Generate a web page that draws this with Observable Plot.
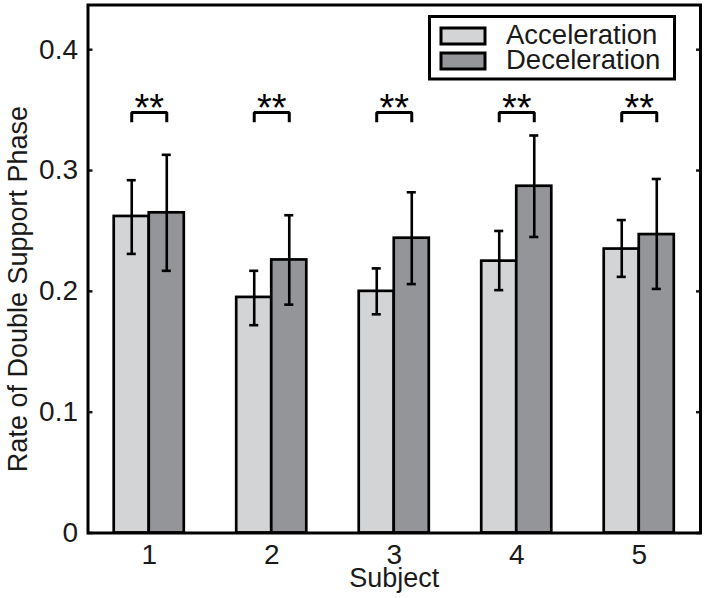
<!DOCTYPE html>
<html>
<head>
<meta charset="utf-8">
<script src="https://cdn.jsdelivr.net/npm/d3@7"></script>
<script src="https://cdn.jsdelivr.net/npm/@observablehq/plot@0.6"></script>
<style>
  html, body { margin: 0; padding: 0; background: #fff; }
  #chart { width: 706px; height: 598px; }
</style>
</head>
<body>
<div id="chart"></div>
<script>
// ---- data ----
const subjects = [1, 2, 3, 4, 5];
const seriesNames = ["Acceleration", "Deceleration"];
const accMean = [0.262, 0.195, 0.200, 0.225, 0.235];
const accLow  = [0.231, 0.172, 0.181, 0.201, 0.212];
const accHigh = [0.292, 0.217, 0.219, 0.250, 0.259];
const decMean = [0.265, 0.226, 0.244, 0.287, 0.247];
const decLow  = [0.217, 0.189, 0.206, 0.245, 0.202];
const decHigh = [0.313, 0.263, 0.282, 0.329, 0.293];
const sigLabels = ["**", "**", "**", "**", "**"];
const sigTop = [0.348, 0.348, 0.348, 0.348, 0.348];
const sigLeg = [0.340, 0.340, 0.340, 0.340, 0.340];
const yTicks = [0, 0.1, 0.2, 0.3, 0.4];
const yTickLabels = ["0", "0.1", "0.2", "0.3", "0.4"];
const xLabel = "Subject";
const yLabel = "Rate of Double Support Phase";
const colors = ["#d3d4d6", "#939598"];

// ---- derived tables ----
const barW = 0.286;
const bars = subjects.flatMap((s, i) => [
  {s, series: seriesNames[0], mean: accMean[i], low: accLow[i], high: accHigh[i], x1: s - barW, x2: s},
  {s, series: seriesNames[1], mean: decMean[i], low: decLow[i], high: decHigh[i], x1: s, x2: s + barW}
]).map(d => ({...d, xc: (d.x1 + d.x2) / 2}));
const capHalf = 0.037;
const brackets = subjects.flatMap((s, i) => [
  {s, x: s - barW / 2, y: sigLeg[i]},
  {s, x: s - barW / 2, y: sigTop[i]},
  {s, x: s + barW / 2, y: sigTop[i]},
  {s, x: s + barW / 2, y: sigLeg[i]}
]);
const stars = subjects.map((s, i) => ({s, label: sigLabels[i], y: sigTop[i]}));

const font = "'Liberation Sans', Arial, Helvetica, sans-serif";
const ink = "#1a1a1a";

const svg = Plot.plot({
  width: 706,
  height: 598,
  marginLeft: 87.5,
  marginRight: 6,
  marginTop: 4.5,
  marginBottom: 65.5,
  style: {fontFamily: font, fontSize: "28px", color: ink, background: "#fff", overflow: "visible"},
  x: {type: "linear", domain: [0.5, 5.5]},
  y: {domain: [0, 0.437]},
  color: {domain: seriesNames, range: colors},
  marks: [
    Plot.rect(bars, {x1: "x1", x2: "x2", y1: () => 0, y2: "mean", fill: "series", stroke: "#000", strokeWidth: 2.7}),
    Plot.ruleX(bars, {x: "xc", y1: "low", y2: "high", stroke: "#000", strokeWidth: 2.6}),
    Plot.ruleY(bars, {y: "low", x1: d => d.xc - capHalf, x2: d => d.xc + capHalf, stroke: "#000", strokeWidth: 2.6}),
    Plot.ruleY(bars, {y: "high", x1: d => d.xc - capHalf, x2: d => d.xc + capHalf, stroke: "#000", strokeWidth: 2.6}),
    Plot.line(brackets, {x: "x", y: "y", z: "s", stroke: "#000", strokeWidth: 3, strokeLinejoin: "miter", strokeLinecap: "butt"}),
    Plot.text(stars, {x: "s", y: "y", text: "label", fontSize: 38, lineAnchor: "bottom", dy: 8, fill: "#000"}),
    Plot.axisY({ticks: yTicks, tickFormat: (d) => yTickLabels[yTicks.indexOf(d)], tickSize: -5, tickPadding: 15, strokeWidth: 2.5, fontSize: 28, fill: ink, label: null}),
    Plot.axisY({anchor: "right", ticks: yTicks, tickFormat: () => "", tickSize: -5, strokeWidth: 2.5, label: null}),
    Plot.axisX({ticks: subjects, tickFormat: d => String(d), tickSize: 0, tickPadding: 11, fontSize: 28, fill: ink, label: null}),
    Plot.text([xLabel], {frameAnchor: "bottom", lineAnchor: "bottom", dy: 54, fontSize: 27, fill: ink}),
    Plot.text([yLabel], {frameAnchor: "left", textAnchor: "middle", rotate: -90, lineAnchor: "bottom", dx: -61, dy: 20, fontSize: 27, fill: ink}),
    Plot.frame({stroke: "#000", strokeWidth: 3})
  ]
});

// legend drawn inside the frame (top-right)
const lg = d3.select(svg).append("g").attr("class", "legend")
  .attr("font-family", font).attr("text-anchor", "start");
lg.append("rect").attr("x", 429.5).attr("y", 16.5).attr("width", 245).attr("height", 62.5)
  .attr("fill", "#fff").attr("stroke", "#000").attr("stroke-width", 3);
seriesNames.forEach((name, i) => {
  const y0 = 28 + i * 25;
  lg.append("rect").attr("x", 441).attr("y", y0).attr("width", 44).attr("height", 16)
    .attr("fill", colors[i]).attr("stroke", "#000").attr("stroke-width", 3);
  lg.append("text").attr("x", 506).attr("y", y0 + 16).attr("font-size", 27.5)
    .attr("text-anchor", "start").attr("fill", ink).text(name);
});

document.getElementById("chart").appendChild(svg);
</script>
</body>
</html>
